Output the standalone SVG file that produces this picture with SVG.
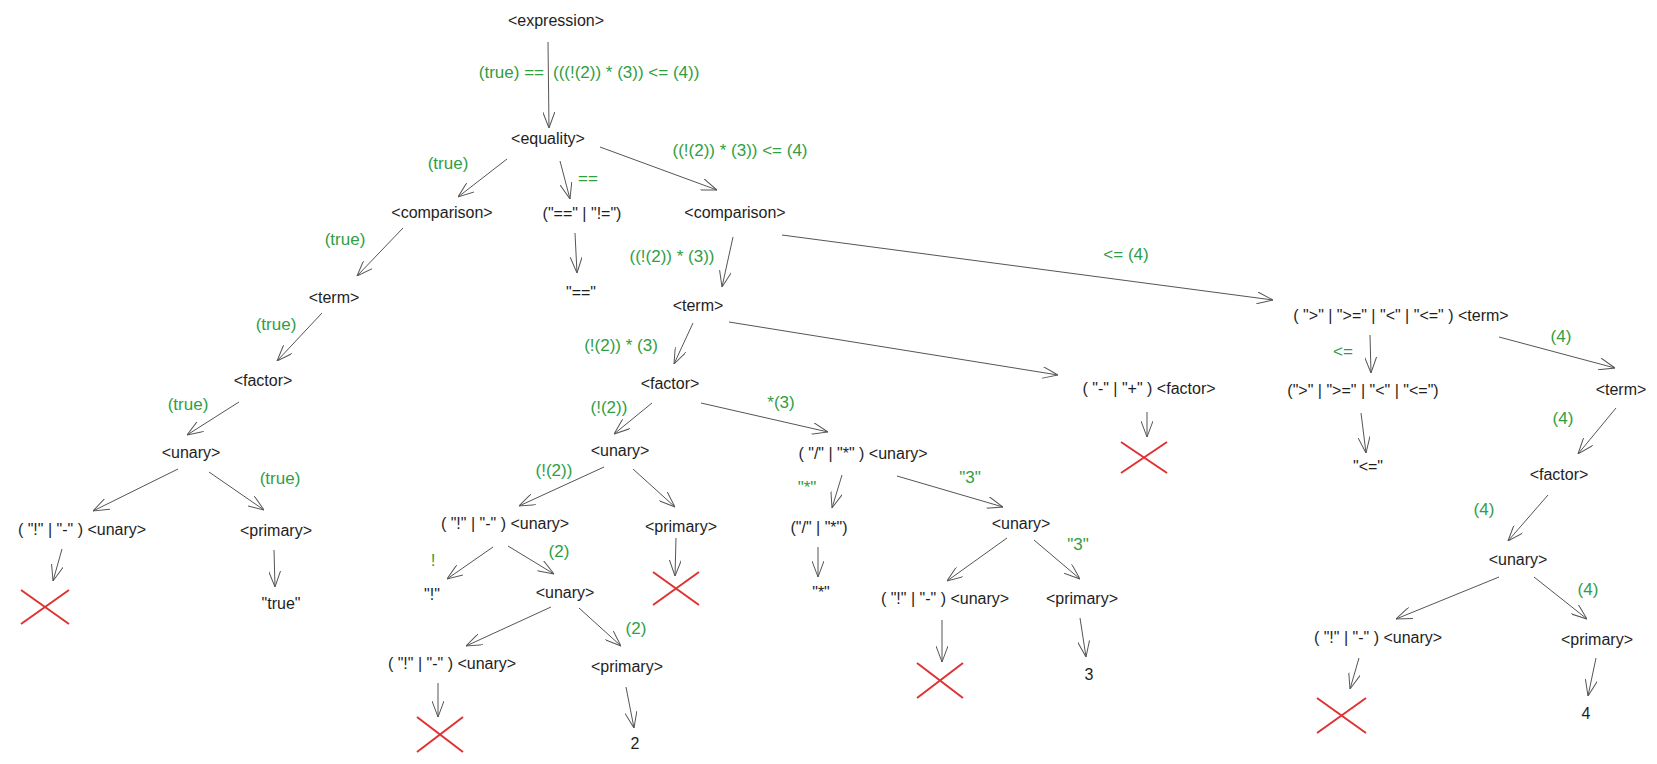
<svg xmlns="http://www.w3.org/2000/svg" width="1657" height="764" viewBox="0 0 1657 764">
<style>
text{font-family:"Liberation Sans","Noto Sans",sans-serif;font-size:16px;dominant-baseline:central;text-anchor:middle}
.n{fill:#1e1e1e}
.g{fill:#2f9e44;font-size:17px}
.c{stroke:#555;stroke-width:1;fill:none;marker-end:url(#ah)}
.x{stroke:#e03131;stroke-width:2}
</style>
<defs>
<marker id="ah" viewBox="0 0 16 12" refX="16" refY="6" markerWidth="16" markerHeight="12" markerUnits="userSpaceOnUse" orient="auto">
<path d="M0,0 L16,6 L0,12" fill="none" stroke="#555" stroke-width="1"/>
</marker>
</defs>
<rect width="1657" height="764" fill="#fff"/>
<g id="connectors">
<line class="c" x1="548" y1="42" x2="549" y2="128"/>
<line class="c" x1="507" y1="159" x2="458" y2="197"/>
<line class="c" x1="560" y1="161" x2="570" y2="199"/>
<line class="c" x1="600" y1="147" x2="717" y2="190"/>
<line class="c" x1="575" y1="233" x2="577" y2="273"/>
<line class="c" x1="733" y1="237" x2="722" y2="287"/>
<line class="c" x1="782" y1="235" x2="1273" y2="300"/>
<line class="c" x1="403" y1="228" x2="357" y2="276"/>
<line class="c" x1="322" y1="313" x2="277" y2="361"/>
<line class="c" x1="239" y1="402" x2="187" y2="435"/>
<line class="c" x1="178" y1="469" x2="93" y2="511"/>
<line class="c" x1="209" y1="472" x2="264" y2="510"/>
<line class="c" x1="62" y1="549" x2="53" y2="581"/>
<line class="c" x1="274" y1="550" x2="275" y2="587"/>
<line class="c" x1="693" y1="323" x2="674" y2="364"/>
<line class="c" x1="729" y1="322" x2="1058" y2="375"/>
<line class="c" x1="652" y1="403" x2="614" y2="434"/>
<line class="c" x1="701" y1="403" x2="828" y2="432"/>
<line class="c" x1="604" y1="467" x2="519" y2="506"/>
<line class="c" x1="633" y1="469" x2="675" y2="507"/>
<line class="c" x1="493" y1="547" x2="447" y2="579"/>
<line class="c" x1="508" y1="546" x2="554" y2="574"/>
<line class="c" x1="676" y1="538" x2="675" y2="576"/>
<line class="c" x1="551" y1="607" x2="466" y2="646"/>
<line class="c" x1="579" y1="608" x2="621" y2="646"/>
<line class="c" x1="438" y1="683" x2="438" y2="717"/>
<line class="c" x1="626" y1="687" x2="634" y2="728"/>
<line class="c" x1="842" y1="475" x2="832" y2="508"/>
<line class="c" x1="897" y1="476" x2="1003" y2="507"/>
<line class="c" x1="818" y1="547" x2="818" y2="577"/>
<line class="c" x1="1007" y1="538" x2="947" y2="581"/>
<line class="c" x1="1034" y1="540" x2="1080" y2="579"/>
<line class="c" x1="942" y1="620" x2="942" y2="662"/>
<line class="c" x1="1080" y1="618" x2="1086" y2="657"/>
<line class="c" x1="1147" y1="412" x2="1147" y2="437"/>
<line class="c" x1="1370" y1="335" x2="1371" y2="373"/>
<line class="c" x1="1361" y1="413" x2="1366" y2="453"/>
<line class="c" x1="1499" y1="337" x2="1615" y2="368"/>
<line class="c" x1="1616" y1="408" x2="1578" y2="454"/>
<line class="c" x1="1548" y1="495" x2="1508" y2="541"/>
<line class="c" x1="1499" y1="577" x2="1396" y2="619"/>
<line class="c" x1="1534" y1="577" x2="1587" y2="619"/>
<line class="c" x1="1359" y1="658" x2="1350" y2="689"/>
<line class="c" x1="1596" y1="658" x2="1588" y2="696"/>
</g>
<g id="labels">
<text class="g" x="544" y="72" style="text-anchor:end">(true) ==</text>
<text class="g" x="553" y="72" style="text-anchor:start">(((!(2)) * (3)) &lt;= (4))</text>
<text class="g" x="448" y="163">(true)</text>
<text class="g" x="588" y="178">==</text>
<text class="g" x="740" y="150">((!(2)) * (3)) &lt;= (4)</text>
<text class="g" x="345" y="239">(true)</text>
<text class="g" x="276" y="324">(true)</text>
<text class="g" x="188" y="404">(true)</text>
<text class="g" x="280" y="478">(true)</text>
<text class="g" x="672" y="256">((!(2)) * (3))</text>
<text class="g" x="621" y="345">(!(2)) * (3)</text>
<text class="g" x="609" y="407">(!(2))</text>
<text class="g" x="781" y="402">*(3)</text>
<text class="g" x="554" y="470">(!(2))</text>
<text class="g" x="433" y="560">!</text>
<text class="g" x="559" y="551">(2)</text>
<text class="g" x="636" y="628">(2)</text>
<text class="g" x="807" y="487">"*"</text>
<text class="g" x="970" y="477">"3"</text>
<text class="g" x="1078" y="544">"3"</text>
<text class="g" x="1126" y="254">&lt;= (4)</text>
<text class="g" x="1343" y="351">&lt;=</text>
<text class="g" x="1561" y="336">(4)</text>
<text class="g" x="1563" y="418">(4)</text>
<text class="g" x="1484" y="509">(4)</text>
<text class="g" x="1588" y="589">(4)</text>
</g>
<g id="expression"><text class="n" x="556" y="20">&lt;expression&gt;</text></g>
<g id="equality"><text class="n" x="548" y="138">&lt;equality&gt;</text></g>
<g id="comparison-left"><text class="n" x="442" y="212">&lt;comparison&gt;</text></g>
<g id="eq-op"><text class="n" x="582" y="213">("==" | "!=")</text></g>
<g id="comparison-right"><text class="n" x="735" y="212">&lt;comparison&gt;</text></g>
<g id="eq-leaf"><text class="n" x="581" y="292">"=="</text></g>
<g id="term-left"><text class="n" x="334" y="297">&lt;term&gt;</text></g>
<g id="factor-left"><text class="n" x="263" y="380">&lt;factor&gt;</text></g>
<g id="unary-left"><text class="n" x="191" y="452">&lt;unary&gt;</text></g>
<g id="prefix-unary-left"><text class="n" x="82" y="529">( "!" | "-" ) &lt;unary&gt;</text></g>
<g id="primary-left"><text class="n" x="276" y="530">&lt;primary&gt;</text></g>
<g id="x1"><line class="x" x1="21" y1="590" x2="69" y2="624"/><line class="x" x1="69" y1="590" x2="21" y2="624"/></g>
<g id="true-leaf"><text class="n" x="281" y="603">"true"</text></g>
<g id="term-mid"><text class="n" x="698" y="305">&lt;term&gt;</text></g>
<g id="factor-mid"><text class="n" x="670" y="383">&lt;factor&gt;</text></g>
<g id="unary-mid"><text class="n" x="620" y="450">&lt;unary&gt;</text></g>
<g id="prefix-unary-mid"><text class="n" x="505" y="523">( "!" | "-" ) &lt;unary&gt;</text></g>
<g id="primary-mid1"><text class="n" x="681" y="526">&lt;primary&gt;</text></g>
<g id="x2"><line class="x" x1="653" y1="572" x2="699" y2="605"/><line class="x" x1="699" y1="572" x2="653" y2="605"/></g>
<g id="bang-leaf"><text class="n" x="432" y="594">"!"</text></g>
<g id="unary-mid2"><text class="n" x="565" y="592">&lt;unary&gt;</text></g>
<g id="prefix-unary-mid2"><text class="n" x="452" y="663">( "!" | "-" ) &lt;unary&gt;</text></g>
<g id="primary-mid2"><text class="n" x="627" y="666">&lt;primary&gt;</text></g>
<g id="x3"><line class="x" x1="417" y1="717" x2="463" y2="752"/><line class="x" x1="463" y1="717" x2="417" y2="752"/></g>
<g id="two-leaf"><text class="n" x="635" y="743">2</text></g>
<g id="mul-unary"><text class="n" x="863" y="453">( "/" | "*" ) &lt;unary&gt;</text></g>
<g id="mul-op"><text class="n" x="819" y="527">("/" | "*")</text></g>
<g id="star-leaf"><text class="n" x="821" y="592">"*"</text></g>
<g id="unary-mid3"><text class="n" x="1021" y="523">&lt;unary&gt;</text></g>
<g id="prefix-unary-mid3"><text class="n" x="945" y="598">( "!" | "-" ) &lt;unary&gt;</text></g>
<g id="x4"><line class="x" x1="917" y1="663" x2="963" y2="698"/><line class="x" x1="963" y1="663" x2="917" y2="698"/></g>
<g id="primary-mid3"><text class="n" x="1082" y="598">&lt;primary&gt;</text></g>
<g id="three-leaf"><text class="n" x="1089" y="674">3</text></g>
<g id="add-factor"><text class="n" x="1149" y="388">( "-" | "+" ) &lt;factor&gt;</text></g>
<g id="x5"><line class="x" x1="1121" y1="442" x2="1167" y2="473"/><line class="x" x1="1167" y1="442" x2="1121" y2="473"/></g>
<g id="cmp-term"><text class="n" x="1401" y="315">( "&gt;" | "&gt;=" | "&lt;" | "&lt;=" ) &lt;term&gt;</text></g>
<g id="cmp-op"><text class="n" x="1363" y="390">("&gt;" | "&gt;=" | "&lt;" | "&lt;=")</text></g>
<g id="le-leaf"><text class="n" x="1368" y="466">"&lt;="</text></g>
<g id="term-right"><text class="n" x="1621" y="389">&lt;term&gt;</text></g>
<g id="factor-right"><text class="n" x="1559" y="474">&lt;factor&gt;</text></g>
<g id="unary-right"><text class="n" x="1518" y="559">&lt;unary&gt;</text></g>
<g id="prefix-unary-right"><text class="n" x="1378" y="637">( "!" | "-" ) &lt;unary&gt;</text></g>
<g id="x6"><line class="x" x1="1317" y1="698" x2="1366" y2="733"/><line class="x" x1="1366" y1="698" x2="1317" y2="733"/></g>
<g id="primary-right"><text class="n" x="1597" y="639">&lt;primary&gt;</text></g>
<g id="four-leaf"><text class="n" x="1586" y="713">4</text></g>
</svg>
